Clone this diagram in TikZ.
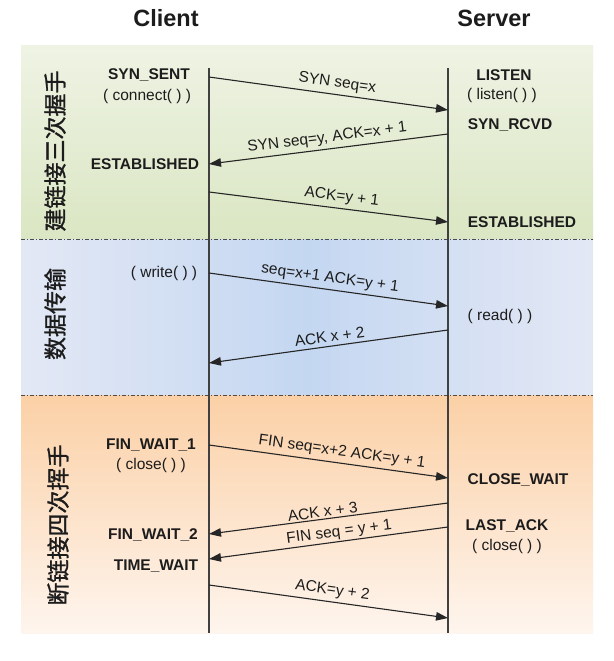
\documentclass[tikz,border=0pt]{standalone}
\usepackage{fontspec}
\setmainfont{Liberation Sans}
\newfontfamily\cjkfont[FakeBold=1.2]{Noto Sans CJK SC}
\usetikzlibrary{arrows.meta}

\definecolor{greentop}{HTML}{EFF3E4}
\definecolor{greenbot}{HTML}{DAE6C3}
\definecolor{blueside}{HTML}{E3E8F5}
\definecolor{bluemid}{HTML}{C4D7F1}
\definecolor{orangetop}{HTML}{FBD0A6}
\definecolor{orangebot}{HTML}{FEF5EE}
\definecolor{ink}{HTML}{1C1C1C}

\tikzset{
  title/.style={font=\fontsize{23.5}{26}\selectfont\bfseries, text=ink},
  state/.style={font=\fontsize{15.5}{18}\selectfont\bfseries, text=ink, inner sep=0pt},
  call/.style={font=\fontsize{15.5}{18}\selectfont, text=ink, inner sep=0pt},
  phase/.style={font=\cjkfont\fontsize{23}{23}\selectfont, text=ink, rotate=90},
  lifeline/.style={draw=black!75, line width=1.1pt},
  sepline/.style={draw=black!70, line width=0.9pt, dash pattern=on 4pt off 2pt on 1.2pt off 2pt},
  msg/.style={draw=black!85, line width=1.1pt, -{Triangle[length=12pt,width=8.5pt]}},
  back/.style={draw=black!85, line width=1.1pt, {Triangle[length=12pt,width=8.5pt]}-},
  msglabel/.style={font=\fontsize{15.5}{18}\selectfont, text=ink, sloped, above, inner sep=3.5pt},
}

\begin{document}
\begin{tikzpicture}[x=1pt, y=-1pt]

  % Page and the three phase bands
  \fill[white] (0,0) rectangle (613,661);
  \useasboundingbox (0,0) rectangle (613,661);
  \shade[top color=greentop, bottom color=greenbot] (21,46) rectangle (593,239);
  \shade[left color=blueside, right color=blueside, middle color=bluemid] (21,239) rectangle (593,395);
  \shade[top color=orangetop, bottom color=orangebot] (21,395) rectangle (593,633);
  \draw[sepline] (21,239) -- (593,239);
  \draw[sepline] (21,395) -- (593,395);

  % Titles
  \node[title] (client) at (166,18) {Client};
  \node[title] (server) at (494,18) {Server};

  % Lifelines
  \coordinate (ctop) at (209,68);
  \coordinate (cbot) at (209,633);
  \coordinate (stop) at (448,68);
  \coordinate (sbot) at (448,633);
  \draw[lifeline] (ctop) -- (cbot);
  \draw[lifeline] (stop) -- (sbot);

  % Phase labels
  \node[phase] (connect) at (55,151) {建链接三次握手};
  \node[phase] (transfer) at (55,314) {数据传输};
  \node[phase] (release) at (58,525) {断链接四次挥手};

  % Client states
  \node[state] (synsent) at (149,75) {SYN\_SENT};
  \node[call] (connectcall) at (147,96) {( connect( ) )};
  \node[state] (cestab) at (145,164) {ESTABLISHED};
  \node[call] (writecall) at (164,273) {( write( ) )};
  \node[state] (finwait1) at (151,445) {FIN\_WAIT\_1};
  \node[call] (cclose) at (151,465) {( close( ) )};
  \node[state] (finwait2) at (153,535) {FIN\_WAIT\_2};
  \node[state] (timewait) at (156,566) {TIME\_WAIT};

  % Server states
  \node[state] (listen) at (504,75) {LISTEN};
  \node[call] (listencall) at (502,95) {( listen( ) )};
  \node[state] (synrcvd) at (510,125) {SYN\_RCVD};
  \node[state] (sestab) at (522,222) {ESTABLISHED};
  \node[call] (readcall) at (500,316) {( read( ) )};
  \node[state] (closewait) at (518,480) {CLOSE\_WAIT};
  \node[state] (lastack) at (507,526) {LAST\_ACK};
  \node[call] (sclose) at (507,546) {( close( ) )};

  % Message end points on the lifelines
  \coordinate (c1) at (209,77);   \coordinate (s1) at (448,110);
  \coordinate (c2) at (209,164);  \coordinate (s2) at (448,134);
  \coordinate (c3) at (209,192);  \coordinate (s3) at (448,222);
  \coordinate (c4) at (209,273);  \coordinate (s4) at (448,306);
  \coordinate (c5) at (209,363);  \coordinate (s5) at (448,330);
  \coordinate (c6) at (209,445);  \coordinate (s6) at (448,478);
  \coordinate (c7) at (209,534);  \coordinate (s7) at (448,503);
  \coordinate (c8) at (209,559);  \coordinate (s8) at (448,527);
  \coordinate (c9) at (209,585);  \coordinate (s9) at (448,618);

  % Three-way handshake
  \draw[msg] (c1) -- (s1) node[msglabel, pos=0.53] {SYN seq=x};
  \draw[back] (c2) -- (s2) node[msglabel, pos=0.5] {SYN seq=y, ACK=x + 1};
  \draw[msg] (c3) -- (s3) node[msglabel, pos=0.55] {ACK=y + 1};

  % Data transfer
  \draw[msg] (c4) -- (s4) node[msglabel, pos=0.5] {seq=x+1 ACK=y + 1};
  \draw[back] (c5) -- (s5) node[msglabel, pos=0.51] {ACK x + 2};

  % Four-way teardown
  \draw[msg] (c6) -- (s6) node[msglabel, pos=0.55] {FIN seq=x+2 ACK=y + 1};
  \draw[back] (c7) -- (s7) node[msglabel, pos=0.48, inner sep=1.5pt] {ACK x + 3};
  \draw[back] (c8) -- (s8) node[msglabel, pos=0.55, inner sep=1.5pt] {FIN seq = y + 1};
  \draw[msg] (c9) -- (s9) node[msglabel, pos=0.51] {ACK=y + 2};

\end{tikzpicture}
\end{document}
